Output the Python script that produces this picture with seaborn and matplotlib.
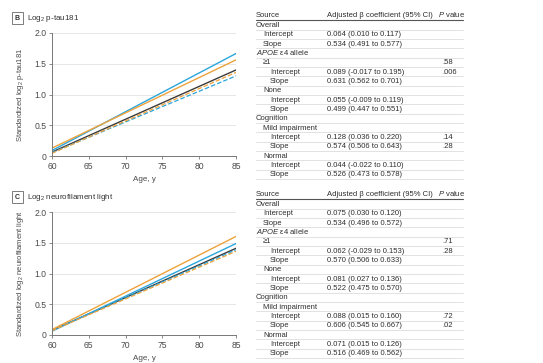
import numpy as np
import pandas as pd
import seaborn as sns
import matplotlib.pyplot as plt

# table / model values (per 10 y, age centred at 60)
row_labels = ['Overall', 'Intercept', 'Slope', '$\\mathit{APOE}$ ε4 allele', '≥1', 'Intercept', 'Slope',
              'None', 'Intercept', 'Slope', 'Cognition', 'Mild impairment', 'Intercept', 'Slope',
              'Normal', 'Intercept', 'Slope']
row_indent = [0, 1, 1, 0, 1, 2, 2, 1, 2, 2, 0, 1, 2, 2, 1, 2, 2]
groups = ['Overall', 'APOE ≥1', 'APOE none', 'Mild impairment', 'Normal']

# p-tau181
ptau_int = [0.064, 0.089, 0.055, 0.128, 0.044]
ptau_int_lo = [0.010, -0.017, -0.009, 0.036, -0.022]
ptau_int_hi = [0.117, 0.195, 0.119, 0.220, 0.110]
ptau_slope = [0.534, 0.631, 0.499, 0.574, 0.526]
ptau_slope_lo = [0.491, 0.562, 0.447, 0.506, 0.473]
ptau_slope_hi = [0.577, 0.701, 0.551, 0.643, 0.578]
ptau_p = ['', '', '', '', '.58', '.006', '', '', '', '', '', '', '.14', '.28', '', '', '']

# neurofilament light
nfl_int = [0.075, 0.062, 0.081, 0.088, 0.071]
nfl_int_lo = [0.030, -0.029, 0.027, 0.015, 0.015]
nfl_int_hi = [0.120, 0.153, 0.136, 0.160, 0.126]
nfl_slope = [0.534, 0.570, 0.522, 0.606, 0.516]
nfl_slope_lo = [0.496, 0.506, 0.475, 0.545, 0.469]
nfl_slope_hi = [0.572, 0.633, 0.570, 0.667, 0.562]
nfl_p = ['', '', '', '', '.71', '.28', '', '', '', '', '', '', '.72', '.02', '', '', '']

ages = [60, 85]
x_ticks = [60, 65, 70, 75, 80, 85]
y_ticks = [0, 0.5, 1.0, 1.5, 2.0]
y_tick_labels = ['0', '0.5', '1.0', '1.5', '2.0']

colors = ['#3b3b3b', '#2aa6dc', '#2aa6dc', '#eea23a', '#eea23a']
styles = ['-', '-', '--', '-', '--']

sns.set_style('white')
plt.rcParams['font.family'] = ['Liberation Sans', 'DejaVu Sans']
plt.rcParams['mathtext.fontset'] = 'custom'
plt.rcParams['mathtext.rm'] = 'Liberation Sans'
plt.rcParams['mathtext.it'] = 'Liberation Sans:italic'

W, H = 543, 363
fig = plt.figure(figsize=(W / 100, H / 100), dpi=100)


def fx(x):
    return x / W


def fy(y):
    return 1 - y / H


def coef_strings(est, lo, hi):
    out = []
    for i in range(len(est)):
        out.append(f'{est[i]:.3f} ({lo[i]:.3f} to {hi[i]:.3f})')
    return out


def draw_panel(top, letter, title, ylabel, ints, slopes):
    ax = fig.add_axes([fx(52), fy(top + 123), fx(236) - fx(52), fy(top) - fy(top + 123)])
    for g, b0, b1, c, ls in zip(groups, ints, slopes, colors, styles):
        df = pd.DataFrame({'age': ages})
        df['val'] = b0 + b1 * (df['age'] - 60) / 10
        sns.lineplot(data=df, x='age', y='val', color=c, linestyle=ls,
                     lw=1.0 if ls == '-' else 0.9, ax=ax, label=g)
    ax.get_legend().remove()
    ax.set_xlim(60, 85)
    ax.set_ylim(0, 2.0)
    ax.set_xticks(x_ticks)
    ax.set_yticks(y_ticks)
    ax.set_yticklabels(y_tick_labels)
    ax.grid(axis='y', color='#e6e6e6', lw=0.7)
    for s in ['top', 'right']:
        ax.spines[s].set_visible(False)
    for s in ['left', 'bottom']:
        ax.spines[s].set_color('#777777')
        ax.spines[s].set_linewidth(0.7)
    ax.tick_params(axis='both', length=2.5, width=0.6, color='#777777',
                   labelsize=6.2, labelcolor='#4a4a4a', pad=1.5, bottom=True, left=True)
    ax.set_xlabel('Age, y', fontsize=5.8, color='#4a4a4a', labelpad=4)
    ax.set_ylabel(ylabel, fontsize=5.5, color='#4a4a4a', labelpad=6)
    fig.text(fx(17.5), fy(top - 15), letter, fontsize=5, fontweight='bold', color='#333333',
             ha='center', va='center',
             bbox=dict(boxstyle='square,pad=0.4', fc='white', ec='#666666', lw=0.6))
    fig.text(fx(27), fy(top - 13), title, fontsize=5.8, color='#333333', ha='left', va='baseline')
    return ax


def draw_table(top, est_i, lo_i, hi_i, est_s, lo_s, hi_s, pvals):
    ci = coef_strings(est_i, lo_i, hi_i)
    cs = coef_strings(est_s, lo_s, hi_s)
    values = ['', ci[0], cs[0], '', '', ci[1], cs[1], '', ci[2], cs[2],
              '', '', ci[3], cs[3], '', ci[4], cs[4]]
    fs = 5.5
    col = '#2e2e2e'
    base = 2.0  # baseline offset below row centre, px
    fig.text(fx(256), fy(top + base), 'Source', fontsize=fs, color=col, va='baseline')
    fig.text(fx(327), fy(top + base), 'Adjusted β coefficient (95% CI)', fontsize=fs, color=col,
             va='baseline')
    fig.text(fx(438), fy(top + base), '$\\mathit{P}$ value', fontsize=fs, color=col, va='baseline')
    fig.add_artist(plt.Line2D([fx(256), fx(463)], [fy(top + 5.2)] * 2, color='#555555', lw=0.8))
    step = 9.33
    for i, lab in enumerate(row_labels):
        y = top + 10 + step * i
        x0 = 256 + 7 * row_indent[i]
        fig.text(fx(x0), fy(y + base), lab, fontsize=fs, color=col, va='baseline')
        if values[i]:
            fig.text(fx(327), fy(y + base), values[i], fontsize=fs, color=col, va='baseline')
        if pvals[i]:
            fig.text(fx(442), fy(y + base), pvals[i], fontsize=fs, color=col, va='baseline')
        fig.add_artist(plt.Line2D([fx(256), fx(463)], [fy(y + 4.6)] * 2, color='#dddddd', lw=0.6))


draw_panel(33, 'B', 'Log$_2$ p-tau181', 'Standardized log$_2$ p-tau181', ptau_int, ptau_slope)
draw_table(15, ptau_int, ptau_int_lo, ptau_int_hi, ptau_slope, ptau_slope_lo, ptau_slope_hi, ptau_p)

draw_panel(212, 'C', 'Log$_2$ neurofilament light', 'Standardized log$_2$ neurofilament light',
           nfl_int, nfl_slope)
draw_table(194, nfl_int, nfl_int_lo, nfl_int_hi, nfl_slope, nfl_slope_lo, nfl_slope_hi, nfl_p)

fig.savefig('out.png', dpi=100)
